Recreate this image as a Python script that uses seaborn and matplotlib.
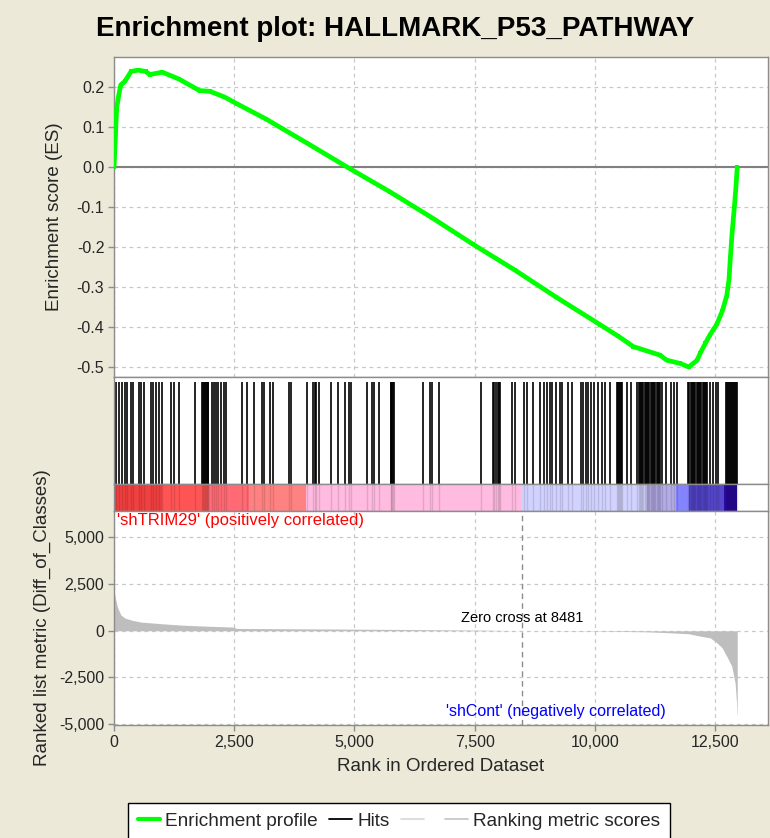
import numpy as np
import pandas as pd
import seaborn as sns
import matplotlib.pyplot as plt
from matplotlib.lines import Line2D
from matplotlib.ticker import FuncFormatter

sns.set_theme(style="white")
plt.rcParams['font.family'] = ['Liberation Sans', 'DejaVu Sans']
plt.rcParams['axes.unicode_minus'] = False

BG = '#ECE9D8'
GRID = '#C8C8C8'
FRAME = '#8C8C8C'

# running enrichment score
es_rank = [0, 27, 54, 98, 140, 226, 356, 500, 658, 745, 1003, 1348, 1778, 1995, 2296,
           2554, 3157, 4020, 4884, 5745, 6608, 7469, 8332, 9193, 10108, 10487, 10801,
           11350, 11495, 11772, 11953, 12126, 12188, 12300, 12396, 12535, 12650, 12743,
           12790, 12812, 12850, 12900, 12930, 12960]
es_value = [0.0, 0.070, 0.147, 0.180, 0.206, 0.215, 0.240, 0.243, 0.240, 0.232, 0.238,
            0.221, 0.192, 0.190, 0.176, 0.159, 0.121, 0.060, -0.002, -0.062, -0.126,
            -0.193, -0.257, -0.325, -0.394, -0.423, -0.449, -0.470, -0.483, -0.491,
            -0.500, -0.483, -0.466, -0.440, -0.419, -0.393, -0.360, -0.321, -0.280,
            -0.236, -0.170, -0.100, -0.055, 0.0]

# positions of gene set members in the ranked list
hit_ranks = [37, 114, 157, 226, 270, 356, 399, 511, 571, 614, 761, 813, 873, 934, 1002,
             1192, 1244, 1347, 1675, 1825, 1845, 1865, 1885, 1905, 1925, 1945, 1965,
             2037, 2080, 2123, 2166, 2227, 2296, 2339, 2667, 2770, 2917, 3072, 3115,
             3244, 3313, 3632, 3676, 4021, 4133, 4176, 4210, 4262, 4521, 4667, 4814,
             4883, 4926, 5271, 5357, 5400, 5504, 5750, 5770, 5790, 5810, 5830, 6435,
             6564, 6607, 6762, 7642, 7885, 7905, 7950, 7975, 8000, 8025, 8272, 8332,
             8522, 8591, 8720, 8867, 8936, 9004, 9065, 9108, 9194, 9280, 9324, 9436,
             9522, 9712, 9755, 9815, 9867, 9928, 9988, 10057, 10143, 10212, 10316,
             10450, 10475, 10500, 10525, 10550, 10570, 10660, 10746, 10885, 10910,
             10935, 10960, 10985, 11010, 11035, 11060, 11085, 11110, 11135, 11160,
             11185, 11210, 11235, 11260, 11285, 11310, 11335, 11350, 11393, 11479,
             11591, 11652, 11712, 11940, 11965, 11990, 12015, 12040, 12065, 12090,
             12115, 12140, 12165, 12190, 12215, 12240, 12265, 12290, 12315, 12340,
             12385, 12454, 12514, 12557, 12730, 12750, 12770, 12790, 12810, 12830,
             12850, 12870, 12890, 12910, 12930, 12950]

# ranked list metric (Diff_of_Classes)
metric_rank = [0, 10, 37, 71, 140, 226, 399, 571, 1002, 1434, 2000, 2468, 2554, 3500,
               4883, 6500, 7728, 8481, 10057, 11000, 11436, 11953, 12212, 12396, 12535,
               12643, 12743, 12847, 12916, 12944, 12955, 12960]
metric_value = [2280, 2000, 1660, 1270, 856, 680, 550, 465, 375, 300, 240, 200, 125, 110,
                90, 60, 35, 0, -20, -50, -90, -160, -300, -375, -640, -900, -1370, -1900,
                -2800, -3800, -4480, -4500]

# heat bar under the hits
band_start = [0, 1000, 1951, 2813, 3995, 8487, 11091, 11695, 11953, 12686]
band_end = [1000, 1951, 2813, 3995, 8487, 11091, 11695, 11953, 12686, 12962]
band_color = ['#F04040', '#FF5454', '#FF6A74', '#FF8282', '#FFBBE0', '#D2D2FF',
              '#B4ACE6', '#8484FF', '#5646CC', '#2A0AA0']

zero_cross = 8481
x_ticks = [0, 2500, 5000, 7500, 10000, 12500]

W, H = 770, 838
fig = plt.figure(figsize=(W / 100, H / 100), dpi=100, facecolor=BG)


def box(l, t, r, b):
    return [l / W, 1 - b / H, (r - l) / W, (b - t) / H]


ax1 = fig.add_axes(box(114, 57, 768, 377))
ax2 = fig.add_axes(box(114, 377, 768, 484))
ax3 = fig.add_axes(box(114, 484, 768, 511))
ax4 = fig.add_axes(box(114, 511, 768, 725))

comma = FuncFormatter(lambda v, p: f"{int(v):,}")

for ax in (ax1, ax2, ax3, ax4):
    ax.set_facecolor('white')
    ax.set_xlim(0, 13600)
    for s in ax.spines.values():
        s.set_color(FRAME)
        s.set_linewidth(1.0)

# enrichment profile
ax1.axhline(0, color='#808080', lw=1.5, zorder=1)
sns.lineplot(x=es_rank, y=es_value, ax=ax1, color='#00FF00', lw=3.4, marker='s',
             markersize=3.5, markeredgewidth=0, zorder=3)
ax1.set_ylim(-0.525, 0.276)
ax1.set_yticks([0.2, 0.1, 0.0, -0.1, -0.2, -0.3, -0.4, -0.5])
ax1.yaxis.set_major_formatter(FuncFormatter(lambda v, p: f"{v:.1f}"))
ax1.set_xticks(x_ticks)
ax1.tick_params(axis='x', length=0, labelbottom=False)
ax1.set_ylabel('Enrichment score (ES)', fontsize=13.5, labelpad=10)

# hits
ax2.vlines(hit_ranks, 0, 1, color='black', lw=1.2)
ax2.set_ylim(0, 1.05)
ax2.set_xticks([])
ax2.set_yticks([])

# heat bar
for s0, s1, c in zip(band_start, band_end, band_color):
    ax3.axvspan(s0, s1, color=c, lw=0)
ax3.vlines(hit_ranks, 0, 1, color='black', lw=1.0, alpha=0.12)
ax3.set_ylim(0, 1)
ax3.set_xticks([])
ax3.set_yticks([])

# ranked list metric
ax4.fill_between(metric_rank, metric_value, 0, color='#BEBEBE', lw=0, zorder=2)
ax4.axvline(zero_cross, color='#8C8C8C', lw=1.0, ls=(0, (4, 3)), zorder=1)
ax4.set_ylim(-5050, 6420)
ax4.set_yticks([5000, 2500, 0, -2500, -5000])
ax4.yaxis.set_major_formatter(comma)
ax4.set_xticks(x_ticks)
ax4.xaxis.set_major_formatter(comma)
ax4.set_xlabel('Rank in Ordered Dataset', fontsize=13.5, labelpad=6)
ax4.set_ylabel('Ranked list metric (Diff_of_Classes)', fontsize=13.5, labelpad=6)
ax4.text(zero_cross, 695, f'Zero cross at {zero_cross}', ha='center', va='center',
         fontsize=10.5, color='black')
ax4.text(0.004, 0.99, "'shTRIM29' (positively correlated)", transform=ax4.transAxes,
         ha='left', va='top', fontsize=12, color='#FF0000')
ax4.text(0.844, 0.065, "'shCont' (negatively correlated)", transform=ax4.transAxes,
         ha='right', va='center', fontsize=11.5, color='#0000FF')

for ax in (ax1, ax4):
    ax.grid(True, color=GRID, ls=(0, (3, 3)), lw=0.9)
    ax.set_axisbelow(True)
    ax.tick_params(axis='y', direction='out', length=4, width=1, color=FRAME,
                   labelsize=11.5, pad=3, left=True)
ax4.tick_params(axis='x', direction='out', length=4, width=1, color=FRAME,
                labelsize=11.5, pad=3, bottom=True)

fig.text(395 / W, 1 - 29 / H, 'Enrichment plot: HALLMARK_P53_PATHWAY', ha='center',
         va='center', fontsize=20, fontweight='bold', color='black')

handles = [Line2D([], [], color='#00FF00', lw=3),
           Line2D([], [], color='black', lw=1.3),
           Line2D([], [], color='#DADADA', lw=1.3),
           Line2D([], [], color='#C8C8C8', lw=1.3)]
labels = ['Enrichment profile', 'Hits', ' ', 'Ranking metric scores']
leg = fig.legend(handles, labels, loc='upper left', bbox_to_anchor=(128 / W, 1 - 803 / H),
                 ncol=4, frameon=True, fancybox=False, edgecolor='black', facecolor='white',
                 fontsize=13.7, handlelength=1.2, handletextpad=0.26, columnspacing=0.6,
                 borderaxespad=0, borderpad=0.5)
leg.get_frame().set_linewidth(1.0)
leg.get_frame().set_alpha(1)

fig.savefig('out.png', dpi=100, facecolor=BG)
